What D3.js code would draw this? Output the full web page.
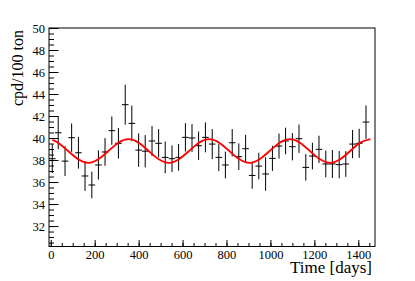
<!DOCTYPE html>
<html>
<head>
<meta charset="utf-8">
<script src="https://cdn.jsdelivr.net/npm/d3@7"></script>
<style>
  body { margin: 0; background: #fff; }
  svg, svg text { font-family: "Liberation Serif", "DejaVu Serif", serif; }
</style>
</head>
<body>
<div id="chart"></div>
<script>
var svgWidth = 415, svgHeight = 281;

// measured points (bin centre in days, rate, error)
var days = [7, 34, 65, 95, 126, 156, 187, 217, 247, 278, 308, 339, 369, 400, 430, 461, 491,
            521, 552, 582, 613, 643, 673, 704, 735, 765, 795, 826, 856, 887, 917, 947, 978,
            1009, 1039, 1069, 1100, 1130, 1161, 1191, 1221, 1252, 1282, 1313, 1343, 1374, 1404, 1435];
var rate = [38.12, 40.48, 37.9, 40.03, 38.66, 36.55, 35.73, 37.55, 38.73, 40.67, 39.52, 43.03, 41.33, 38.9, 38.8, 39.73, 39.52,
            38.24, 38.12, 38.24, 40.06, 40.0, 39.3, 40.06, 39.45, 38.24, 37.55, 39.57, 38.3, 39.03, 36.6, 37.45, 36.73,
            38.15, 39.27, 39.73, 39.21, 39.94, 37.33, 38.36, 38.97, 37.64, 37.64, 37.58, 37.64, 39.45, 39.52, 41.45];
var rateErr = [1.3, 1.49, 1.36, 1.29, 1.44, 1.36, 1.21, 1.32, 1.26, 1.29, 1.39, 1.82, 1.62, 1.52, 1.47, 1.36, 1.29,
               1.44, 1.21, 1.21, 1.29, 1.26, 1.29, 1.36, 1.36, 1.24, 1.21, 1.24, 1.21, 1.26, 1.21, 1.21, 1.52,
               1.14, 1.14, 1.21, 1.24, 1.29, 1.21, 1.21, 1.24, 1.21, 1.27, 1.24, 1.17, 1.29, 1.32, 1.52];
var binHalf = 15;

var fitDays = [7, 33, 79, 125, 171, 216, 262, 308, 354, 400, 446, 492, 538, 583, 629, 675, 721,
               767, 813, 859, 905, 950, 996, 1042, 1088, 1134, 1180, 1226, 1272, 1317, 1363, 1409, 1455];
var fitRate = [39.84, 39.58, 38.82, 38.06, 37.74, 38.06, 38.82, 39.58, 39.90, 39.58, 38.82, 38.06, 37.74, 38.06, 38.82, 39.58, 39.90,
               39.58, 38.82, 38.06, 37.74, 38.06, 38.82, 39.58, 39.90, 39.58, 38.82, 38.06, 37.74, 38.06, 38.82, 39.58, 39.90];

var xTicks = [0, 200, 400, 600, 800, 1000, 1200, 1400];
var yTicks = [32, 34, 36, 38, 40, 42, 44, 46, 48, 50];
var xTitle = "Time [days]", yTitle = "cpd/100 ton";

var frame = {left: 49, right: 375, top: 28, bottom: 246.5};
var serif = '"Liberation Serif", "DejaVu Serif", serif';

var x = d3.scaleLinear().domain([-8, 1476]).range([frame.left, frame.right]);
var y = d3.scaleLinear().domain([30.14, 50]).range([frame.bottom, frame.top]);

var svg = d3.select("#chart")
  .append("svg")
  .attr("width", svgWidth)
  .attr("height", svgHeight);

// minor ticks
svg.append("g")
  .attr("transform", "translate(" + frame.left + ",0)")
  .call(d3.axisLeft(y).tickValues(d3.range(30.5, 50, 0.5)).tickSize(-5).tickFormat(""))
  .call(g => g.select(".domain").remove());
svg.append("g")
  .attr("transform", "translate(0," + frame.bottom + ")")
  .call(d3.axisBottom(x).tickValues(d3.range(0, 1451, 50)).tickSize(-3.5).tickFormat(""))
  .call(g => g.select(".domain").remove());

// major ticks + labels
var yAxis = svg.append("g")
  .attr("transform", "translate(" + frame.left + ",0)")
  .call(d3.axisLeft(y).tickValues(yTicks).tickSize(-9.5).tickPadding(4).tickFormat(d3.format("d")));
yAxis.select(".domain").remove();
yAxis.attr("font-family", null);
yAxis.selectAll("text").style("font-family", serif).style("font-size", "12.5px").attr("fill", "#000");

var xAxis = svg.append("g")
  .attr("transform", "translate(0," + frame.bottom + ")")
  .call(d3.axisBottom(x).tickValues(xTicks).tickSize(-6.5).tickPadding(4).tickFormat(d3.format("d")));
xAxis.select(".domain").remove();
xAxis.attr("font-family", null);
xAxis.selectAll("text").style("font-family", serif).style("font-size", "12.5px").attr("fill", "#000");

svg.selectAll(".tick line").attr("stroke", "#000");

// frame
svg.append("rect")
  .attr("x", frame.left)
  .attr("y", frame.top)
  .attr("width", frame.right - frame.left)
  .attr("height", frame.bottom - frame.top)
  .attr("fill", "none")
  .attr("stroke", "#000")
  .attr("stroke-width", 1);

// data points with error bars
var pts = days.map((d, i) => ({t: d, v: rate[i], e: rateErr[i]}));

var groups = svg.append("g")
  .selectAll("g")
  .data(pts)
  .enter()
  .append("g")
  .attr("stroke", "#000")
  .attr("stroke-width", 1);

groups.append("line")
  .attr("x1", d => x(d.t))
  .attr("x2", d => x(d.t))
  .attr("y1", d => y(d.v + d.e))
  .attr("y2", d => y(d.v - d.e));

groups.append("line")
  .attr("x1", d => x(d.t - binHalf))
  .attr("x2", d => x(d.t + binHalf))
  .attr("y1", d => y(d.v))
  .attr("y2", d => y(d.v));

// fit curve
var fitLine = d3.line()
  .x((d, i) => x(fitDays[i]))
  .y(d => y(d))
  .curve(d3.curveNatural);

svg.append("path")
  .attr("d", fitLine(fitRate))
  .attr("fill", "none")
  .attr("stroke", "#ff0000")
  .attr("stroke-width", 1.8);

// axis titles
svg.append("text")
  .text(xTitle)
  .attr("x", 372)
  .attr("y", 272.5)
  .attr("text-anchor", "end")
  .style("font-family", serif)
  .style("font-size", "17px");

svg.append("text")
  .text(yTitle)
  .attr("transform", "translate(22.7,30) rotate(-90)")
  .attr("text-anchor", "end")
  .style("font-family", serif)
  .style("font-size", "16px");
</script>
</body>
</html>
